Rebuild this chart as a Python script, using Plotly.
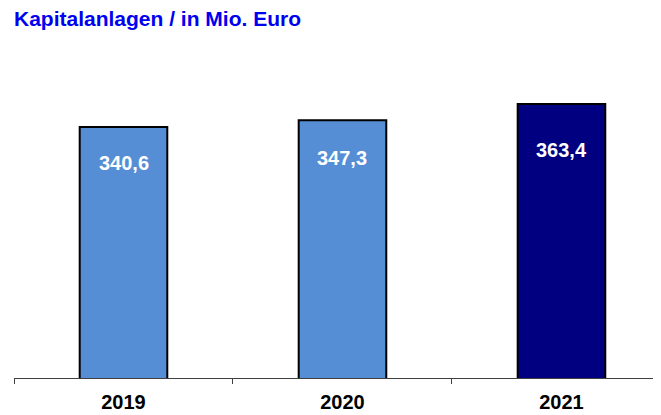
import plotly.graph_objects as go

years = ["2019", "2020", "2021"]
values = [340.6, 347.3, 363.4]
value_labels = ["340,6", "347,3", "363,4"]
bar_colors = ["#558ED5", "#558ED5", "#000080"]
label_shift = [-36, -38, -46]

fig = go.Figure()
fig.add_trace(go.Bar(x=years, y=values, width=0.40,
                     marker=dict(color=bar_colors, line=dict(color="black", width=2)),
                     hoverinfo="skip"))

# value labels inside the bars, near the top
for i, (v, txt, sh) in enumerate(zip(values, value_labels, label_shift)):
    fig.add_annotation(x=i, y=v, xref="x", yref="y", text="<b>%s</b>" % txt,
                       showarrow=False, yanchor="middle", yshift=sh,
                       font=dict(family="Liberation Sans, Arial", size=20, color="white"))

# page body has an 8px margin, margins below account for it
fig.update_layout(
    width=661, height=415,
    margin=dict(l=6, r=0, t=52, b=45),
    plot_bgcolor="white", paper_bgcolor="white",
    showlegend=False,
    title=dict(text="<b>Kapitalanlagen / in Mio. Euro</b>", x=6 / 661, xanchor="left",
               y=0.975, yanchor="middle", yref="container",
               font=dict(family="Liberation Sans, Arial", size=21, color="#0000F0")),
    xaxis=dict(type="category", range=[-0.5, 2.491], tickson="boundaries",
               ticks="outside", ticklen=5, tickcolor="#404040", tickwidth=1,
               ticklabelstandoff=6,
               showline=True, linecolor="#404040", linewidth=1, showgrid=False,
               tickfont=dict(family="Liberation Sans, Arial", size=20, color="black"),
               tickprefix="<b>", ticksuffix="</b>"),
    yaxis=dict(range=[90, 407.4], visible=False, showgrid=False, zeroline=False),
)

fig.write_html("out.html")
